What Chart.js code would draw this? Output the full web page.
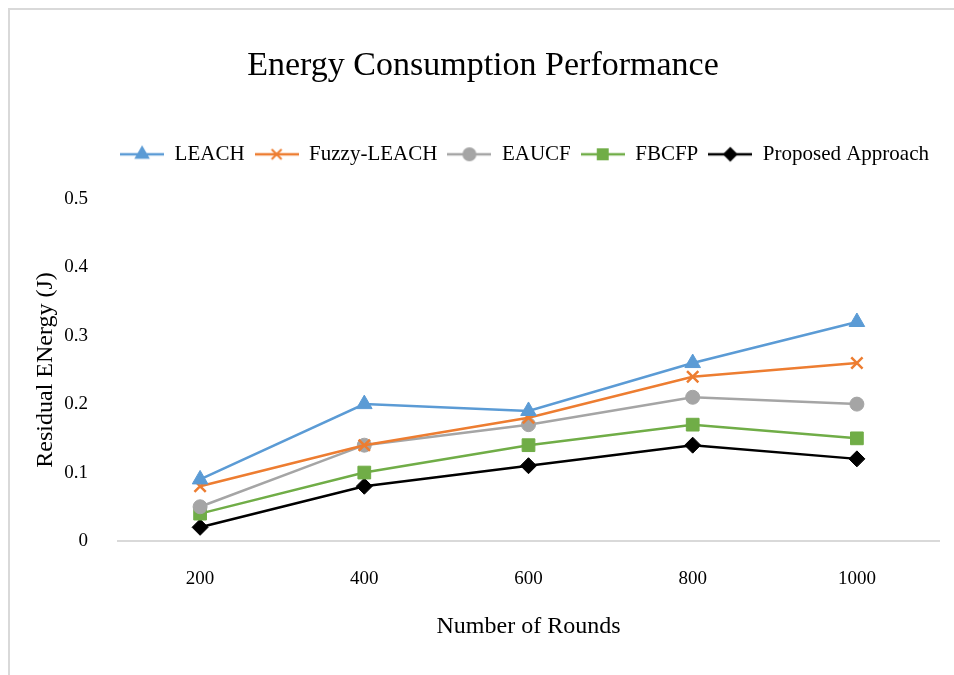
<!DOCTYPE html>
<html>
<head>
<meta charset="utf-8">
<script src="https://cdn.jsdelivr.net/npm/chart.js@4"></script>
<style>
  html, body { margin: 0; padding: 0; background: #fff; }
  #wrap { position: relative; width: 954px; height: 675px; overflow: hidden; }
  #frame { position: absolute; left: 8px; top: 8px; right: -4px; bottom: -4px;
           border-top: 2px solid #d9d9d9; border-left: 2px solid #d9d9d9; }
  canvas { position: absolute; left: 0; top: 0; }
</style>
</head>
<body>
<div id="wrap">
  <div id="frame"></div>
  <canvas id="chart" width="954" height="675"></canvas>
</div>
<script>
// Chart data
const rounds = ['200', '400', '600', '800', '1000'];
const leach = [0.09, 0.20, 0.19, 0.26, 0.32];
const fuzzyLeach = [0.08, 0.14, 0.18, 0.24, 0.26];
const eaucf = [0.05, 0.14, 0.17, 0.21, 0.20];
const fbcfp = [0.04, 0.10, 0.14, 0.17, 0.15];
const proposed = [0.02, 0.08, 0.11, 0.14, 0.12];

const serif = '"Liberation Serif", "Times New Roman", serif';

// small image of line + marker for the legend, excel style
function legendIcon(color, style, radius) {
    const c = document.createElement('canvas');
    c.width = 44;
    c.height = 20;
    const ctx = c.getContext('2d');
    ctx.strokeStyle = color;
    ctx.lineWidth = 2.5;
    ctx.beginPath();
    ctx.moveTo(0, 10);
    ctx.lineTo(44, 10);
    ctx.stroke();
    ctx.fillStyle = color;
    ctx.lineWidth = 2;
    Chart.helpers.drawPoint(ctx, { pointStyle: style, radius: radius, rotation: 0, borderWidth: 2 }, 22, 10);
    return c;
}

function createDataset(label, values, color, style, radius, legendRadius) {
    return {
        label: label,
        data: values,
        borderColor: color,
        backgroundColor: color,
        borderWidth: 2.5,
        pointStyle: style,
        pointRadius: radius,
        pointBorderWidth: style === 'crossRot' ? 2.5 : 1,
        tension: 0,
        fill: false,
        icon: legendIcon(color, style, legendRadius)
    };
}

// extra room under the legend row
const legendSpace = {
    id: 'legendSpace',
    afterInit(chart) {
        const fit = chart.legend.fit;
        chart.legend.fit = function () {
            fit.call(this);
            this.height += 24;
        };
    }
};

const ctx = document.getElementById('chart').getContext('2d');
new Chart(ctx, {
    type: 'line',
    data: {
        labels: rounds,
        datasets: [
            createDataset('LEACH', leach, '#5B9BD5', 'triangle', 9, 7),
            createDataset('Fuzzy-LEACH', fuzzyLeach, '#ED7D31', 'crossRot', 8, 7),
            createDataset('EAUCF', eaucf, '#A5A5A5', 'circle', 7, 6),
            createDataset('FBCFP', fbcfp, '#70AD47', 'rect', 9, 7),
            createDataset('Proposed Approach', proposed, '#000000', 'rectRot', 8, 6)
        ]
    },
    plugins: [legendSpace],
    options: {
        responsive: false,
        animation: false,
        layout: { padding: { left: 27, right: 15, top: 46, bottom: 30 } },
        plugins: {
            title: {
                display: true,
                text: 'Energy Consumption Performance',
                color: '#000',
                font: { family: serif, size: 34, weight: 'normal' },
                padding: { top: 0, bottom: 47 }
            },
            legend: {
                position: 'top',
                align: 'end',
                labels: {
                    color: '#000',
                    font: { family: serif, size: 21 },
                    usePointStyle: true,
                    pointStyleWidth: 44,
                    padding: 10,
                    generateLabels: (chart) => chart.data.datasets.map((ds, i) => ({
                        text: ds.label,
                        pointStyle: ds.icon,
                        fillStyle: ds.borderColor,
                        strokeStyle: ds.borderColor,
                        lineWidth: 0,
                        fontColor: '#000',
                        datasetIndex: i
                    }))
                }
            },
            tooltip: { enabled: false }
        },
        scales: {
            x: {
                offset: true,
                grid: { display: false, drawTicks: false, offset: true },
                border: { display: true, color: '#d9d9d9', width: 2 },
                ticks: { color: '#000', font: { family: serif, size: 19 }, padding: 27 },
                title: {
                    display: true,
                    text: 'Number of Rounds',
                    color: '#000',
                    font: { family: serif, size: 24 },
                    padding: { top: 10, bottom: 4 }
                },
                afterFit: (scale) => { scale.height = 104; }
            },
            y: {
                min: 0,
                max: 0.5,
                grid: { display: false, drawTicks: false },
                border: { display: false },
                ticks: { stepSize: 0.1, color: '#000', font: { family: serif, size: 19 }, padding: 30 },
                title: {
                    display: true,
                    text: 'Residual ENergy (J)',
                    color: '#000',
                    font: { family: serif, size: 24 },
                    padding: { top: 4, bottom: 4 }
                },
                afterFit: (scale) => { scale.width = 91; }
            }
        }
    }
});
</script>
</body>
</html>
